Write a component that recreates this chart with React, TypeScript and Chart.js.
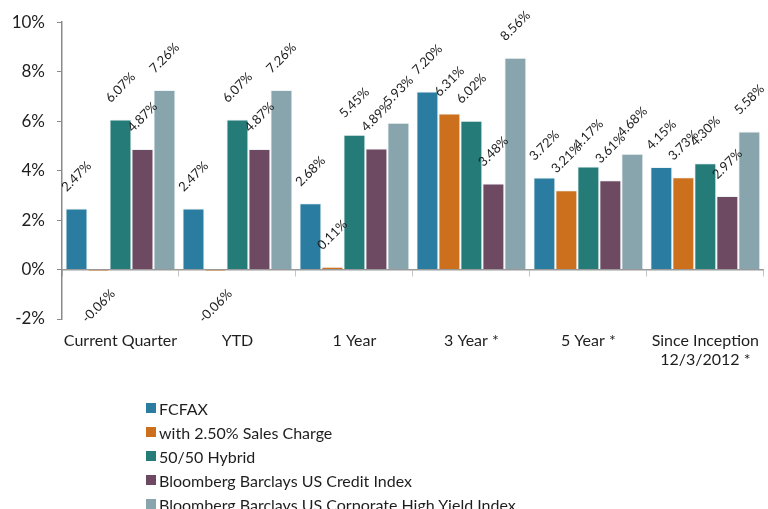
import React, { useEffect, useRef } from "react";
import { Chart, registerables } from "chart.js";

Chart.register(...registerables);

const categories: (string | string[])[] = [
  "Current Quarter",
  "YTD",
  "1 Year",
  "3 Year *",
  "5 Year *",
  ["Since Inception", "12/3/2012 *"],
];

const seriesNames = [
  "FCFAX",
  "with 2.50% Sales Charge",
  "50/50 Hybrid",
  "Bloomberg Barclays US Credit Index",
  "Bloomberg Barclays US Corporate High Yield Index",
];

const fcfax = [2.47, 2.47, 2.68, 7.2, 3.72, 4.15];
const salesCharge = [-0.06, -0.06, 0.11, 6.31, 3.21, 3.73];
const hybrid = [6.07, 6.07, 5.45, 6.02, 4.17, 4.3];
const creditIndex = [4.87, 4.87, 4.89, 3.48, 3.61, 2.97];
const highYieldIndex = [7.26, 7.26, 5.93, 8.56, 4.68, 5.58];

const seriesColors = ["#2A7DA1", "#CD701E", "#247B78", "#6E4A62", "#88A5AD"];

const yTicks = [-2, 0, 2, 4, 6, 8, 10];

const FONT = "Lato, 'DejaVu Sans', sans-serif";

const labelPlugin = {
  id: "barValueLabels",
  afterDatasetsDraw(chart: any) {
    const ctx = chart.ctx;
    ctx.save();
    ctx.font = `13px ${FONT}`;
    ctx.fillStyle = "#1e1e1e";
    ctx.textAlign = "center";
    ctx.textBaseline = "middle";
    chart.data.datasets.forEach((ds: any, i: number) => {
      const meta = chart.getDatasetMeta(i);
      meta.data.forEach((el: any, j: number) => {
        const v = ds.data[j] as number;
        const { x, y } = el.getProps(["x", "y"], true);
        const ty = v >= 0 ? y - 32 : y + 35;
        ctx.save();
        ctx.translate(x, ty);
        ctx.rotate(-Math.PI / 4);
        ctx.fillText(v.toFixed(2) + "%", 0, 0);
        ctx.restore();
      });
    });
    ctx.restore();
  },
};

export default function App() {
  const canvasRef = useRef<HTMLCanvasElement | null>(null);

  useEffect(() => {
    if (!canvasRef.current) return;
    const allSeries = [fcfax, salesCharge, hybrid, creditIndex, highYieldIndex];
    const chart = new Chart(canvasRef.current, {
      type: "bar",
      data: {
        labels: categories,
        datasets: allSeries.map((d, i) => ({
          label: seriesNames[i],
          data: d,
          backgroundColor: seriesColors[i],
          borderColor: "rgba(235,242,245,0.85)",
          borderWidth: 1,
          categoryPercentage: 0.94,
          barPercentage: 1,
        })),
      },
      options: {
        responsive: false,
        animation: false,
        devicePixelRatio: 1,
        layout: { padding: { top: 22, right: 0, bottom: 0, left: 0 } },
        plugins: {
          legend: { display: false },
          tooltip: { enabled: false },
        },
        scales: {
          x: {
            type: "category",
            position: "bottom",
            grid: { display: false, drawTicks: false },
            border: { display: false },
            ticks: {
              font: { family: FONT, size: 16 },
              color: "#1e1e1e",
              padding: 12,
              maxRotation: 0,
              autoSkip: false,
            },
            afterFit(scale: any) {
              scale.height = 190;
            },
          },
          x2: {
            type: "category",
            labels: categories as any,
            position: { y: 0 } as any,
            offset: true,
            grid: {
              display: true,
              offset: true,
              drawOnChartArea: false,
              drawTicks: true,
              tickLength: 6,
              color: "#c4c4c4",
            },
            border: { display: true, color: "#9a9a9a", width: 1.5 },
            ticks: { display: false },
          },
          y: {
            min: -2,
            max: 10,
            afterBuildTicks(scale: any) {
              scale.ticks = yTicks.map((v) => ({ value: v }));
            },
            ticks: {
              font: { family: FONT, size: 17 },
              color: "#1e1e1e",
              padding: 12,
              callback: (v: any) => `${v}%`,
            },
            grid: {
              drawOnChartArea: false,
              drawTicks: true,
              tickLength: 5,
              color: "#8a8a8a",
            },
            border: { display: true, color: "#8a8a8a", width: 1.5 },
            afterFit(scale: any) {
              scale.width = 62;
            },
          },
        },
      },
      plugins: [labelPlugin],
    });
    return () => chart.destroy();
  }, []);

  return (
    <div
      style={{
        position: "fixed",
        left: 0,
        top: 0,
        width: 768,
        height: 509,
        overflow: "hidden",
        background: "#fff",
      }}
    >
      <canvas
        ref={canvasRef}
        width={771}
        height={509}
        style={{ display: "block", width: 771, height: 509 }}
      />
      <div
        style={{
          position: "absolute",
          left: 146,
          top: 396,
          fontFamily: FONT,
          fontSize: 16,
          color: "#1e1e1e",
        }}
      >
        {seriesNames.map((name, i) => (
          <div
            key={name}
            style={{
              display: "flex",
              alignItems: "center",
              height: 24,
              whiteSpace: "nowrap",
            }}
          >
            <span
              style={{
                display: "inline-block",
                width: 10,
                height: 10,
                background: seriesColors[i],
                marginRight: 3,
              }}
            />
            <span>{name}</span>
          </div>
        ))}
      </div>
    </div>
  );
}
